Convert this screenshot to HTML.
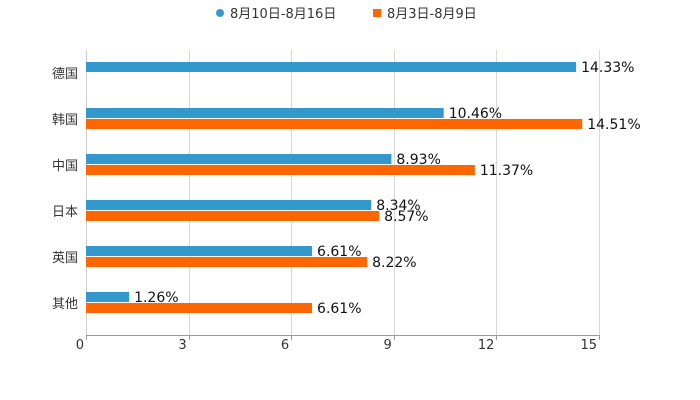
<!DOCTYPE html>
<html><head><meta charset="utf-8">
<style>
body{margin:0;background:#fff;}
svg{display:block;font-family:"DejaVu Sans","Noto Sans CJK SC",sans-serif;}
</style></head>
<body>
<svg id="chart" width="700" height="400">
  <g>
    <g>
      <circle cx="220" cy="13" r="4" fill="#3399cc"/>
      <text x="230" y="18" font-size="13" fill="#333">8月10日-8月16日</text>
    </g>
    <g>
      <rect x="373" y="9" width="8" height="8" fill="#ff6600"/>
      <text x="387" y="18" font-size="13" fill="#333">8月3日-8月9日</text>
    </g>
  </g>
  <g id="grid"></g>
  <g id="bars"></g>
  <g id="axes"></g>
</svg>
<script>
const categories = ["德国","韩国","中国","日本","英国","其他"];
const seriesA = [14.33, 10.46, 8.93, 8.34, 6.61, 1.26];
const seriesB = [null, 14.51, 11.37, 8.57, 8.22, 6.61];
const ticks = [0,3,6,9,12,15];

const NS="http://www.w3.org/2000/svg";
const x0=86, x1=599, yTop=50, yBottom=326, yAxis=335, xmax=15;
const xs=v=>x0+(v/xmax)*(x1-x0);
const band=(yBottom-yTop)/categories.length;
function mk(tag,attrs,parent){const e=document.createElementNS(NS,tag);for(const k in attrs)e.setAttribute(k,attrs[k]);parent.appendChild(e);return e;}
const grid=document.getElementById('grid'), bars=document.getElementById('bars'), axes=document.getElementById('axes');

ticks.forEach(t=>{
  const gx=Math.round(xs(t))+0.5;
  const g=mk('line',{x1:gx,x2:gx,y1:yTop,y2:yAxis,stroke:t>0?'#d8d8d8':'#ccc','stroke-width':1},grid);
  
  
  const tk=mk('line',{x1:gx,x2:gx,y1:yAxis,y2:yAxis+5,stroke:'#999'},axes);
  
  
  const lb=mk('text',{x:xs(t)-2,y:yAxis+14,'font-size':13,fill:'#333','text-anchor':'end'},axes);
  lb.textContent=t;
  
  
});
const ax=mk('line',{x1:x0,x2:x1+1,y1:yAxis+0.5,y2:yAxis+0.5,stroke:'#999'},axes);



categories.forEach((c,i)=>{
  const cy=yTop+band*i+band/2;
  const lb=mk('text',{x:78,y:cy+5,'font-size':13,fill:'#333','text-anchor':'end'},axes);
  lb.textContent=c;
  
  
  [[seriesA[i],'#3399cc',cy-11,'a'],[seriesB[i],'#ff6600',cy,'b']].forEach(([v,col,y,s])=>{
    if(v==null)return;
    const r=mk('rect',{x:x0,y:y,width:xs(v)-x0,height:10,fill:col},bars);
    
    
    const t=mk('text',{x:xs(v)+5,y:y+10,'font-size':14,fill:'#111'},bars);
    t.textContent=v.toFixed(2)+'%';
    
    
  });
});
</script>
</body></html>
